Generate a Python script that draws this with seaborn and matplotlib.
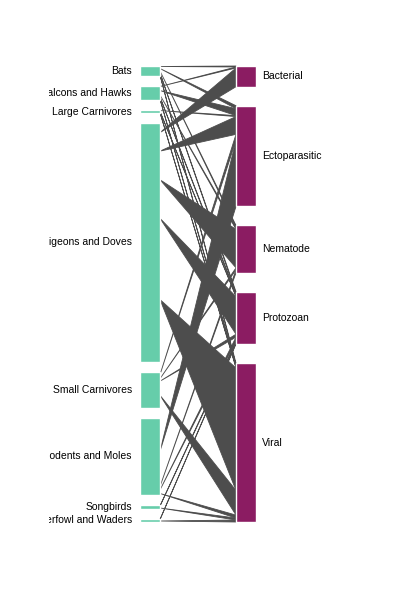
import numpy as np
import seaborn as sns
import matplotlib.pyplot as plt

plt.switch_backend('Agg')

sources = ["Bats", "Falcons and Hawks", "Large Carnivores", "Pigeons and Doves",
           "Small Carnivores", "Rodents and Moles", "Songbirds", "Waterfowl and Waders"]
targets = ["Bacterial", "Ectoparasitic", "Nematode", "Protozoan", "Viral"]

# link values, one list per host group, in the order of targets
bats = [1, 3, 2, 2, 2]
falcons = [1, 7, 2, 2, 2]
large_carnivores = [0, 1, 0, 1, 1]
pigeons = [19, 18, 39, 38, 124]
small_carnivores = [0, 6, 2, 3, 25]
rodents = [0, 67, 3, 4, 3]
songbirds = [0, 0, 0, 2, 2]
waterfowl = [0, 0, 0, 1, 2]

flows = np.array([bats, falcons, large_carnivores, pigeons,
                  small_carnivores, rodents, songbirds, waterfowl], dtype=float)

sns.set_style("white")
plt.rcParams['font.family'] = ['Liberation Sans', 'DejaVu Sans']

# layout in pixel units
top, bottom = 66, 522
left_x0, left_x1 = 140, 160
right_x0, right_x1 = 236, 256
pad_l, pad_r = 10, 19
total = flows.sum()
ky_l = (bottom - top - pad_l * (len(sources) - 1)) / total
ky_r = (bottom - top - pad_r * (len(targets) - 1)) / total

src_tot = flows.sum(axis=1) * ky_l
tgt_tot = flows.sum(axis=0) * ky_r
src_y0 = top + np.concatenate([[0], np.cumsum(src_tot + pad_l)[:-1]])
tgt_y0 = top + np.concatenate([[0], np.cumsum(tgt_tot + pad_r)[:-1]])

# the left labels are cut off at x = 49
clip_x = 49
fig = plt.figure(figsize=(4.03, 5.99), dpi=100)
ax = fig.add_axes([clip_x / 403, 0, 1 - clip_x / 403, 1])
ax.set_xlim(clip_x, 403)
ax.set_ylim(599, 0)
ax.axis('off')

link_col = "#4d4d4d"
src_off = src_y0.copy()
tgt_off = tgt_y0.copy()
# offsets at source follow target order, offsets at target follow source order
src_pos = {}
for i in range(len(sources)):
    for j in range(len(targets)):
        w = flows[i, j] * ky_l
        if w > 0:
            src_pos[(i, j)] = src_off[i] + w / 2
            src_off[i] += w
for j in range(len(targets)):
    for i in range(len(sources)):
        w = flows[i, j] * ky_r
        if w > 0:
            ya = src_pos[(i, j)]
            ax.fill([left_x1, right_x0, right_x0],
                    [ya, tgt_off[j], tgt_off[j] + w],
                    color=link_col, lw=0.6, ec=link_col, zorder=1)
            tgt_off[j] += w

ax.bar([(left_x0 + left_x1) / 2] * len(sources), src_tot, bottom=src_y0,
       width=left_x1 - left_x0, color="#66cdaa", zorder=2)
ax.bar([(right_x0 + right_x1) / 2] * len(targets), tgt_tot, bottom=tgt_y0,
       width=right_x1 - right_x0, color="#8b1c62", zorder=2)

for name, y0, h in zip(sources, src_y0, src_tot):
    ax.text(132, y0 + h / 2, name, ha="right", va="center", fontsize=7.5,
            color="black", clip_on=True)
for name, y0, h in zip(targets, tgt_y0, tgt_tot):
    ax.text(262, y0 + h / 2, name, ha="left", va="center", fontsize=7.5,
            color="black", clip_on=True)

plt.savefig("out.png", dpi=100)
